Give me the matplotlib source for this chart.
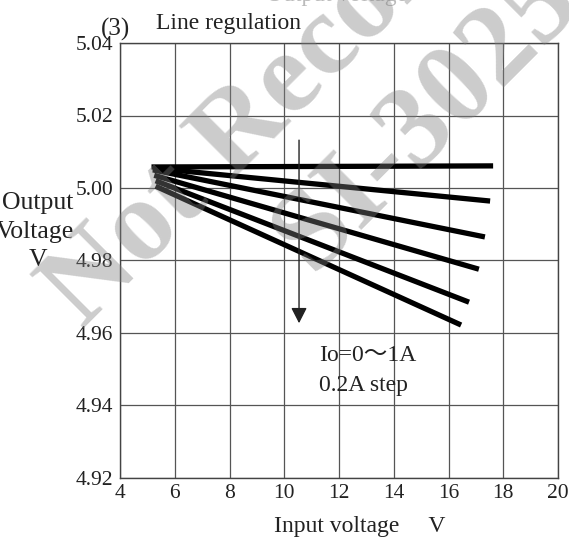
import matplotlib
matplotlib.use("Agg")
import matplotlib.pyplot as plt

plt.rcParams['font.family'] = ['Liberation Serif', 'Noto Sans CJK JP']

# ---- data ----
x_ticks = [4, 6, 8, 10, 12, 14, 16, 18, 20]
y_ticks = [4.92, 4.94, 4.96, 4.98, 5.00, 5.02, 5.04]
io_labels = ["0A", "0.2A", "0.4A", "0.6A", "0.8A", "1A"]
vin_start = [5.15, 5.2, 5.2, 5.25, 5.3, 5.3]
vin_end = [17.63, 17.52, 17.33, 17.11, 16.75, 16.46]
vout_start = [5.0058, 5.0055, 5.0050, 5.0035, 5.0020, 5.0005]
vout_end = [5.0061, 4.9964, 4.9865, 4.9776, 4.9685, 4.9622]
arrow_x = 10.54
arrow_y = [5.0132, 4.9627]
note_x = 11.27
note_y = [4.9537, 4.9454]

W, H = 569, 544
fig = plt.figure(figsize=(W / 100, H / 100), dpi=100)
ax = fig.add_axes([120 / W, 1 - 478 / H, 438 / W, 435 / H])

ax.set_xlim(4, 20)
ax.set_ylim(4.92, 5.04)
ax.set_xticks(x_ticks)
ax.set_xticklabels([str(v) for v in x_ticks])
ax.set_yticks(y_ticks)
ax.set_yticklabels([f"{v:.2f}" for v in y_ticks])
ax.grid(True, color='#555555', lw=0.9)
ax.set_axisbelow(True)
ax.tick_params(length=0, labelsize=15.5, colors='#222222')
ax.tick_params(axis='x', pad=4.5)
ax.tick_params(axis='y', pad=5)
for s in ax.spines.values():
    s.set_color('#444444')
    s.set_linewidth(1.0)

for xs, xe, ys, ye, lab in zip(vin_start, vin_end, vout_start, vout_end, io_labels):
    ax.plot([xs, xe], [ys, ye], color='black', lw=3.8, solid_capstyle='butt', label=lab)

ax.annotate('', xy=(arrow_x, arrow_y[1]), xytext=(arrow_x, arrow_y[0]),
            arrowprops=dict(arrowstyle='-|>,head_length=0.47,head_width=0.24',
                            mutation_scale=20, lw=1.0, color='#222222',
                            shrinkA=0, shrinkB=0))
ax.text(note_x, note_y[0], "Io=0～1A", fontsize=17, ha='left', va='center', color='#222222')
ax.text(note_x, note_y[1], "0.2A step", fontsize=17, ha='left', va='center', color='#222222')

# titles and labels
fig.text(115 / W, 1 - 29 / H, "(3)", fontsize=18, ha='center', va='center', color='#222222')
fig.text(156 / W, 1 - 24 / H, "Line regulation", fontsize=17, ha='left', va='center', color='#222222')
fig.text(337 / W, 1 - 1 / H, "Output voltage", fontsize=17, ha='center', va='baseline', color='#bbbbbb')
fig.text(73 / W, 1 - 203 / H, "Output", fontsize=18.5, ha='right', va='center', color='#222222')
fig.text(74 / W, 1 - 232 / H, "Voltage", fontsize=18.5, ha='right', va='center', color='#222222')
fig.text(38 / W, 1 - 260 / H, "V", fontsize=18.5, ha='center', va='center', color='#222222')
fig.text(360 / W, 1 - 532 / H, "Input voltage     V", fontsize=17, ha='center', va='baseline', color='#222222')

# watermark
wm = dict(rotation=45, rotation_mode='anchor', ha='left', va='center', fontsize=84,
          fontweight='bold', color='#808080', alpha=0.4, zorder=10)
fig.text(63 / W, 1 - 310 / H, "Not Recommended for New Designs", **wm)
fig.text(292 / W, 1 - 253 / H, "SI-3025LSA", **wm)

fig.savefig("out.png", dpi=100)
